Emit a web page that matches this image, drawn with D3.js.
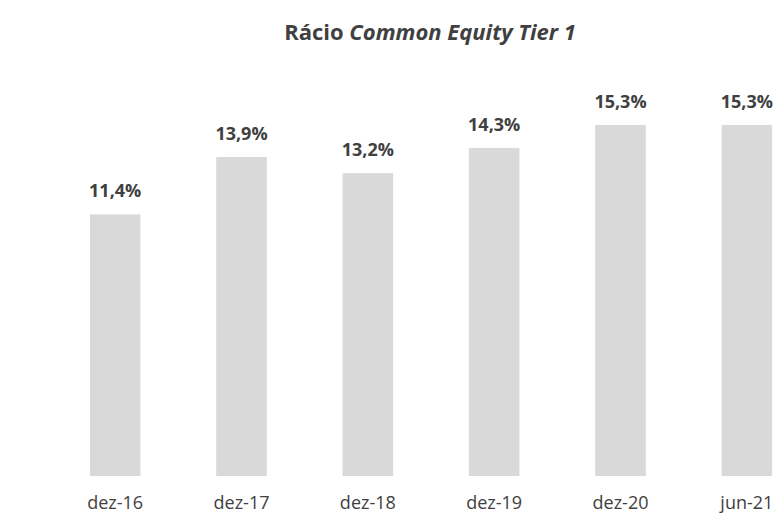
<!DOCTYPE html>
<html>
<head>
<meta charset="utf-8">
<script src="https://cdnjs.cloudflare.com/ajax/libs/d3/7.8.5/d3.min.js"></script>
<style>
  body { margin: 0; background: #fff; }
  svg { display: block; font-family: "Open Sans", sans-serif; }
</style>
</head>
<body>
<svg id="chart" width="780" height="513"></svg>
<script>
// chart values
var categories = ["dez-16", "dez-17", "dez-18", "dez-19", "dez-20", "jun-21"];
var values = [11.4, 13.9, 13.2, 14.3, 15.3, 15.3];
var valueLabels = ["11,4%", "13,9%", "13,2%", "14,3%", "15,3%", "15,3%"];

var svg = d3.select("#chart");

var x = d3.scaleBand()
    .domain(categories)
    .range([52, 810])
    .paddingInner(0.6)
    .paddingOuter(0.3);

var y = d3.scaleLinear()
    .domain([0, 18])
    .range([476, 63]);

// title, second part in italic
var title = svg.append("text")
    .attr("x", 430)
    .attr("y", 40)
    .attr("text-anchor", "middle")
    .attr("font-size", 22)
    .attr("font-weight", "bold")
    .attr("fill", "#404040");
title.append("tspan").text("Rácio ");
title.append("tspan").attr("font-style", "italic").text("Common Equity Tier 1");

var bar = svg.selectAll(".bar")
    .data(values)
  .enter().append("g")
    .attr("class", "bar");

bar.append("rect")
    .attr("x", function (d, i) { return x(categories[i]); })
    .attr("y", function (d) { return y(d); })
    .attr("width", x.bandwidth())
    .attr("height", function (d) { return y(0) - y(d); })
    .attr("fill", "#d9d9d9");

bar.append("text")
    .attr("x", function (d, i) { return x(categories[i]) + x.bandwidth() / 2; })
    .attr("y", function (d) { return y(d) - 17; })
    .attr("text-anchor", "middle")
    .attr("font-size", 18)
    .attr("font-weight", "bold")
    .attr("fill", "#404040")
    .text(function (d, i) { return valueLabels[i]; });

// category axis, no line or ticks
var xAxis = svg.append("g")
    .attr("transform", "translate(0,476)")
    .call(d3.axisBottom(x).tickSize(0).tickPadding(20));
xAxis.select(".domain").remove();
xAxis.selectAll("text")
    .attr("font-family", "Open Sans, sans-serif")
    .attr("font-size", 18)
    .attr("fill", "#404040");
</script>
</body>
</html>
